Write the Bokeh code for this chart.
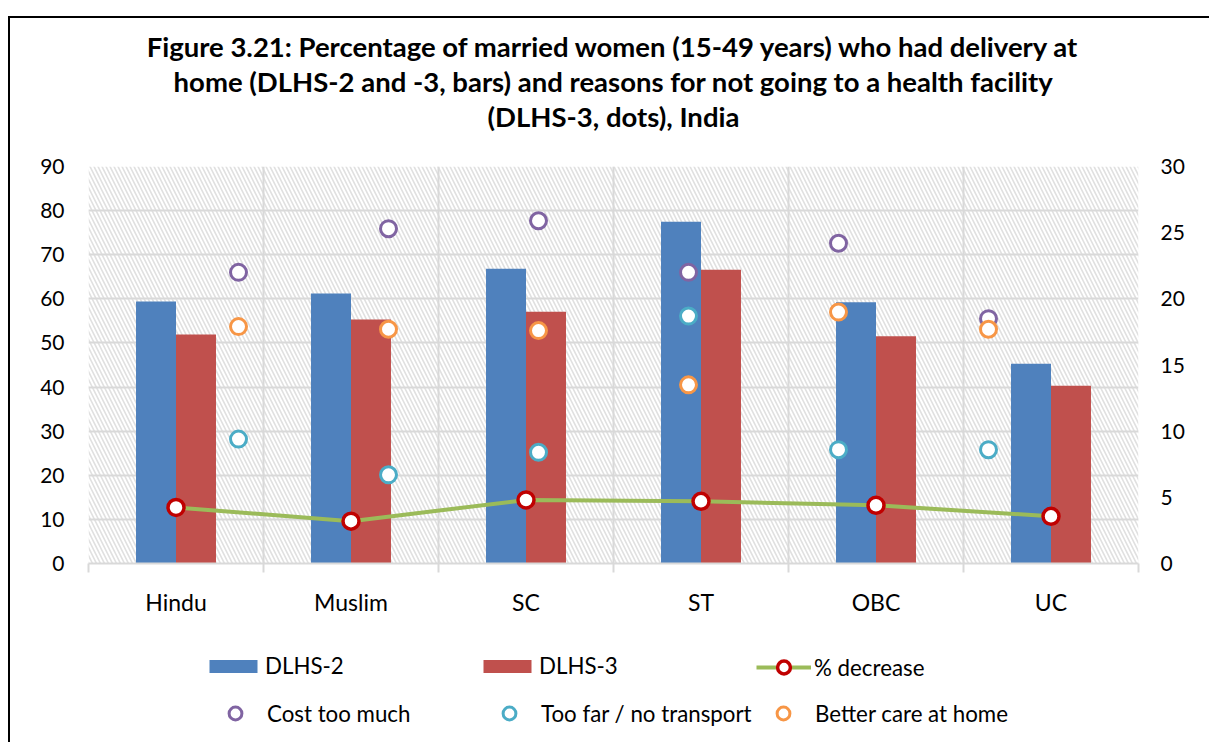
from bokeh.plotting import figure
from bokeh.layouts import column
from bokeh.models import (Range1d, LinearAxis, FixedTicker, Legend, LegendItem,
                          Title, InlineStyleSheet, BoxAnnotation)
from bokeh.embed import file_html
from bokeh.resources import INLINE

# ---- data -------------------------------------------------------------
groups = ["Hindu", "Muslim", "SC", "ST", "OBC", "UC"]
dlhs2 = [59.4, 61.2, 66.8, 77.5, 59.2, 45.3]          # % home deliveries, DLHS-2
dlhs3 = [51.9, 55.3, 57.1, 66.6, 51.5, 40.3]          # % home deliveries, DLHS-3
pct_decrease = [12.7, 9.6, 14.4, 14.1, 13.2, 10.7]    # % decrease DLHS-2 -> DLHS-3
cost_too_much = [22.0, 25.3, 25.9, 22.0, 24.2, 18.5]  # reasons (right axis)
too_far = [9.4, 6.7, 8.4, 18.7, 8.6, 8.6]
better_care_home = [17.9, 17.7, 17.6, 13.5, 19.0, 17.7]

left_ticks = [0, 10, 20, 30, 40, 50, 60, 70, 80, 90]
right_ticks = [0, 5, 10, 15, 20, 25, 30]

title_lines = [
    "Figure 3.21: Percentage of married women (15-49 years) who had delivery at",
    "home (DLHS-2 and -3, bars) and reasons for not going to a health facility",
    "(DLHS-3, dots), India",
]

# ---- styling ----------------------------------------------------------
FONT = "Lato"
BLUE, RED, GREEN, DARKRED = "#4F81BD", "#C0504D", "#9BBB59", "#C00000"
PURPLE, TEAL, ORANGE = "#8064A2", "#4BACC6", "#F79646"
GRID = "#D9D9D9"
NAN = float("nan")

n = len(groups)
slot = 2                                   # x units per group
centers = [slot * i + 1 for i in range(n)]
bounds = [slot * i for i in range(n + 1)]
bar_w = 0.457
# the reason dots sit on their own evenly spaced secondary scale
dot_x = [(i + 1) * slot * n / (n + 1) for i in range(n)]

W = 1209
H_MAIN, H_LEG = 630, 112

p = figure(width=W, height=H_MAIN, title=None,
           x_range=Range1d(0, slot * n), y_range=Range1d(0, 90),
           output_backend="svg", toolbar_location=None,
           min_border_left=88, min_border_right=71,
           min_border_top=166, min_border_bottom=67)
p.extra_y_ranges = {"right": Range1d(0, 30)}
p.background_fill_color = "white"
p.border_fill_color = "white"
p.outline_line_color = None

# hatched plot background
p.add_layout(BoxAnnotation(fill_alpha=0, line_color=None,
                           hatch_pattern="\\", hatch_color="#E0E0E0",
                           hatch_scale=8, hatch_weight=1.6, level="image"))

# grid
p.ygrid.ticker = FixedTicker(ticks=left_ticks)
p.xgrid.ticker = FixedTicker(ticks=bounds)
for g in (p.xgrid, p.ygrid):
    g.grid_line_color = GRID
    g.grid_line_width = 2

# category axis
xa = p.xaxis[0]
xa.ticker = FixedTicker(ticks=centers, minor_ticks=bounds)
xa.major_label_overrides = {c: g for c, g in zip(centers, groups)}
xa.major_tick_line_color = None
xa.major_tick_out = 0
xa.minor_tick_in = 0
xa.minor_tick_out = 9
xa.minor_tick_line_color = GRID
xa.minor_tick_line_width = 2
xa.axis_line_color = GRID
xa.axis_line_width = 2
xa.major_label_standoff = 15
xa.major_label_text_font_size = "23px"

# left value axis
ya = p.yaxis[0]
ya.ticker = FixedTicker(ticks=left_ticks)
ya.axis_line_color = None
ya.major_tick_line_color = None
ya.minor_tick_line_color = None
ya.major_tick_out = 0
ya.minor_tick_out = 0
ya.major_label_standoff = 24
ya.major_label_text_font_size = "21px"

# right value axis
ra = LinearAxis(y_range_name="right", ticker=FixedTicker(ticks=right_ticks))
ra.axis_line_color = None
ra.major_tick_line_color = None
ra.minor_tick_line_color = None
ra.major_tick_out = 0
ra.minor_tick_out = 0
ra.major_label_standoff = 22
ra.major_label_text_font_size = "21px"
p.add_layout(ra, "right")

for ax in (xa, ya, ra):
    ax.major_label_text_font = FONT
    ax.major_label_text_color = "#000000"

# bars
p.vbar(x=[c - bar_w / 2 for c in centers], width=bar_w, top=dlhs2,
       fill_color=BLUE, line_color=None)
p.vbar(x=[c + bar_w / 2 for c in centers], width=bar_w, top=dlhs3,
       fill_color=RED, line_color=None)

# % decrease line
line_style = dict(line_color=GREEN, line_width=4)
pt_style = dict(size=16, fill_color="white", line_color=DARKRED, line_width=3.5)
p.line(centers, pct_decrease, **line_style)
p.scatter(centers, pct_decrease, **pt_style)

# reason dots
dot_style = dict(size=16, fill_color="white", line_width=3)
p.scatter(dot_x, cost_too_much, y_range_name="right", line_color=PURPLE, **dot_style)
p.scatter(dot_x, too_far, y_range_name="right", line_color=TEAL, **dot_style)
p.scatter(dot_x, better_care_home, y_range_name="right", line_color=ORANGE, **dot_style)

# title, stacked outward from the plot; a blank strip keeps it clear of the grid
p.add_layout(Title(text=" ", text_font_size="1px", standoff=31), "above")
for line in reversed(title_lines):
    p.add_layout(Title(text=line, align="center", text_font=FONT,
                       text_font_size="27.5px", text_font_style="bold",
                       text_color="#000000", standoff=0),
                 "above")

# ---- legend strip -----------------------------------------------------
lg = figure(width=W, height=H_LEG, x_range=Range1d(0, 1), y_range=Range1d(0, 1),
            output_backend="svg", toolbar_location=None,
            x_axis_location=None, y_axis_location=None,
            min_border_left=0, min_border_right=0, min_border_top=0,
            min_border_bottom=0)
lg.outline_line_color = None
lg.xgrid.visible = False
lg.ygrid.visible = False

# legend keys (no visible data)
k_d2 = lg.vbar(x=[NAN], top=[NAN], width=0.1, fill_color=BLUE, line_color=None)
k_d3 = lg.vbar(x=[NAN], top=[NAN], width=0.1, fill_color=RED, line_color=None)
k_ln = lg.line(x=[NAN], y=[NAN], **line_style)
k_pt = lg.scatter(x=[NAN], y=[NAN], **pt_style)
k_cost = lg.scatter(x=[NAN], y=[NAN], line_color=PURPLE, **dot_style)
k_far = lg.scatter(x=[NAN], y=[NAN], line_color=TEAL, **dot_style)
k_care = lg.scatter(x=[NAN], y=[NAN], line_color=ORANGE, **dot_style)


def add_legend(items, loc, gw, gh, standoff, lw):
    lg.add_layout(Legend(items=items, location=loc, orientation="horizontal",
                         glyph_width=gw, glyph_height=gh, label_standoff=standoff,
                         label_width=lw, label_height=24, spacing=0,
                         padding=0, margin=0,
                         border_line_color=None, background_fill_alpha=0,
                         label_text_font=FONT, label_text_font_size="22.3px",
                         label_text_color="#000000"))


# locations are measured from the left edge of the (aligned) plot frame
add_legend([LegendItem(label="DLHS-2", renderers=[k_d2]),
            LegendItem(label="DLHS-3", renderers=[k_d3])],
           (115, 63), 60, 16, 2, 212)
add_legend([LegendItem(label="% decrease", renderers=[k_ln, k_pt])],
           (668, 59), 55, 32, 3, 120)
add_legend([LegendItem(label="Cost too much", renderers=[k_cost]),
            LegendItem(label="Too far / no transport", renderers=[k_far]),
            LegendItem(label="Better care at home", renderers=[k_care])],
           (122, 13), 50, 32, 7, 217)

# thin frame around the figure area
p.stylesheets = [InlineStyleSheet(css=""":host::after {
  content: ''; position: absolute; left: 8px; top: 16px; right: 0; bottom: 0;
  border-left: 2px solid #000; border-top: 2px solid #000;
  pointer-events: none; z-index: 10; }""")]
lg.stylesheets = [InlineStyleSheet(css=""":host::after {
  content: ''; position: absolute; left: 8px; top: 0; right: 0; bottom: 0;
  border-left: 2px solid #000; pointer-events: none; z-index: 10; }""")]

page = column(p, lg, spacing=0)
open("out.html", "w").write(file_html(page, INLINE))
